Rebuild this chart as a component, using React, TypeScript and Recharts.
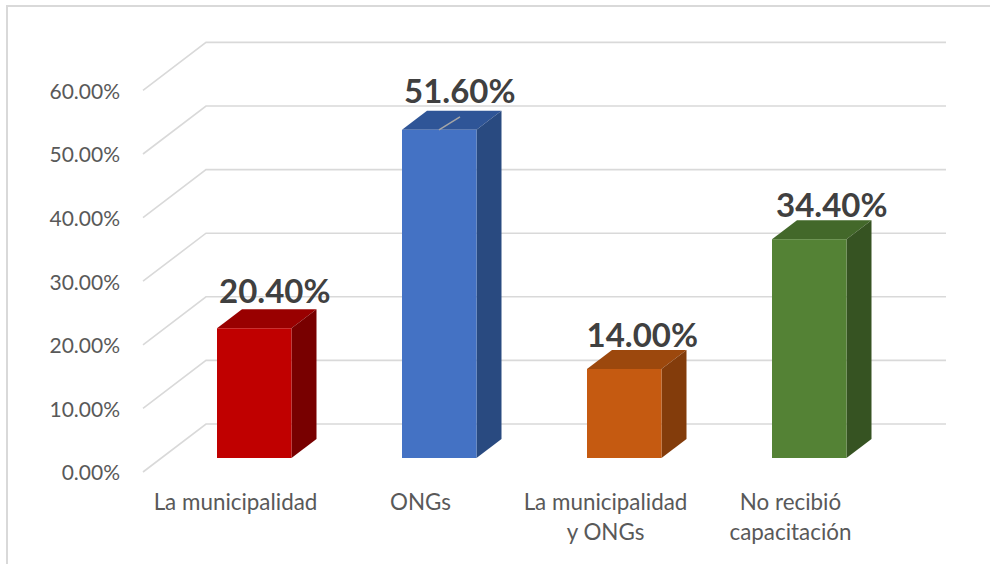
import React from "react";
import { BarChart, Bar, XAxis, YAxis, CartesianGrid, LabelList } from "recharts";

const categories = ["La municipalidad", "ONGs", "La municipalidad\ny ONGs", "No recibió\ncapacitación"];
const values = [20.4, 51.6, 14.0, 34.4];
const yTicks = [0, 10, 20, 30, 40, 50, 60];
const frontColors = ["#C00000", "#4472C4", "#C55A11", "#548235"];
const topColors = ["#990000", "#2F5597", "#9C480D", "#43682A"];
const sideColors = ["#780000", "#294A80", "#833C0B", "#365322"];
// the labels were dragged by hand in the original, so each has its own offset
const labelDx = [39.5, 39.5, 37, 41.5];
const labelLift = [39, 41, 36, 36];

const data = categories.map((name, i) => ({ name, value: values[i] }));

const FONT = "Lato, sans-serif";
const GRID = "#D9D9D9";
// floor depth of the back wall, and how far the bars sit into it
const WALL_DX = 63;
const WALL_DY = 48;
const BAR_DX = 19;
const BAR_DY = 14;
const DEPTH_X = 25;
const DEPTH_Y = 19;

function gridLine(props: any) {
  const { x1, y1, x2, y2 } = props;
  return (
    <polyline
      key={props.key ?? y1}
      points={`${x1},${y1} ${x1 + WALL_DX},${y1 - WALL_DY} ${x2 + WALL_DX},${y2 - WALL_DY}`}
      fill="none"
      stroke={GRID}
      strokeWidth={1.6}
    />
  );
}

function Box3D(props: any) {
  const { x, y, width, height, index } = props;
  const l = x + BAR_DX;
  const r = l + width;
  const t = y - BAR_DY;
  const b = t + height;
  return (
    <g>
      <polygon
        points={`${l},${t} ${l + DEPTH_X},${t - DEPTH_Y} ${r + DEPTH_X},${t - DEPTH_Y} ${r},${t}`}
        fill={topColors[index]}
      />
      <polygon
        points={`${r},${t} ${r + DEPTH_X},${t - DEPTH_Y} ${r + DEPTH_X},${b - DEPTH_Y} ${r},${b}`}
        fill={sideColors[index]}
      />
      <rect x={l} y={t} width={width} height={height} fill={frontColors[index]} />
      {/* leftover leader line on the ONGs label */}
      {index === 1 && (
        <line x1={l + 37} y1={t} x2={l + 58} y2={t - 13} stroke="#A6A6A6" strokeWidth={1.5} />
      )}
    </g>
  );
}

function XTick(props: any) {
  const { x, y, payload } = props;
  const lines = String(payload.value).split("\n");
  return (
    <text x={x} y={y} textAnchor="middle" fill="#595959" fontFamily={FONT} fontSize={22.4}>
      {lines.map((line, i) => (
        <tspan key={line} x={x} dy={i === 0 ? 32 : 30}>
          {line}
        </tspan>
      ))}
    </text>
  );
}

function BarLabel(props: any) {
  const { x, y, width, value, index } = props;
  return (
    <text
      x={x + width / 2 + labelDx[index]}
      y={y - labelLift[index]}
      textAnchor="middle"
      fill="#404040"
      fontFamily={FONT}
      fontSize={33}
      fontWeight={700}
    >
      {`${Number(value).toFixed(2)}%`}
    </text>
  );
}

export default function App() {
  return (
    <div style={{ position: "absolute", left: 0, top: 0, width: 990, height: 564, background: "#fff", overflow: "hidden" }}>
      <div
        style={{
          position: "absolute",
          left: 6,
          top: 5,
          right: 0,
          bottom: 0,
          borderLeft: `2px solid ${GRID}`,
          borderTop: `2px solid ${GRID}`,
        }}
      />
      <BarChart
        width={990}
        height={564}
        data={data}
        barSize={74.5}
        margin={{ top: 90.4, right: 107, bottom: 32, left: 83 }}
        style={{ position: "absolute", left: 0, top: 0 }}
      >
        <CartesianGrid vertical={false} horizontal={gridLine} />
        <XAxis
          dataKey="name"
          height={60}
          interval={0}
          axisLine={false}
          tickLine={false}
          tickMargin={0}
          tick={<XTick />}
        />
        <YAxis
          width={60}
          domain={[0, 60]}
          ticks={yTicks}
          axisLine={false}
          tickLine={false}
          tickMargin={17}
          tickFormatter={(v: number) => `${v.toFixed(2)}%`}
          tick={{ fill: "#595959", fontFamily: FONT, fontSize: 21, dy: 1 }}
        />
        <Bar dataKey="value" shape={Box3D} isAnimationActive={false}>
          <LabelList dataKey="value" content={BarLabel} />
        </Bar>
      </BarChart>
    </div>
  );
}
